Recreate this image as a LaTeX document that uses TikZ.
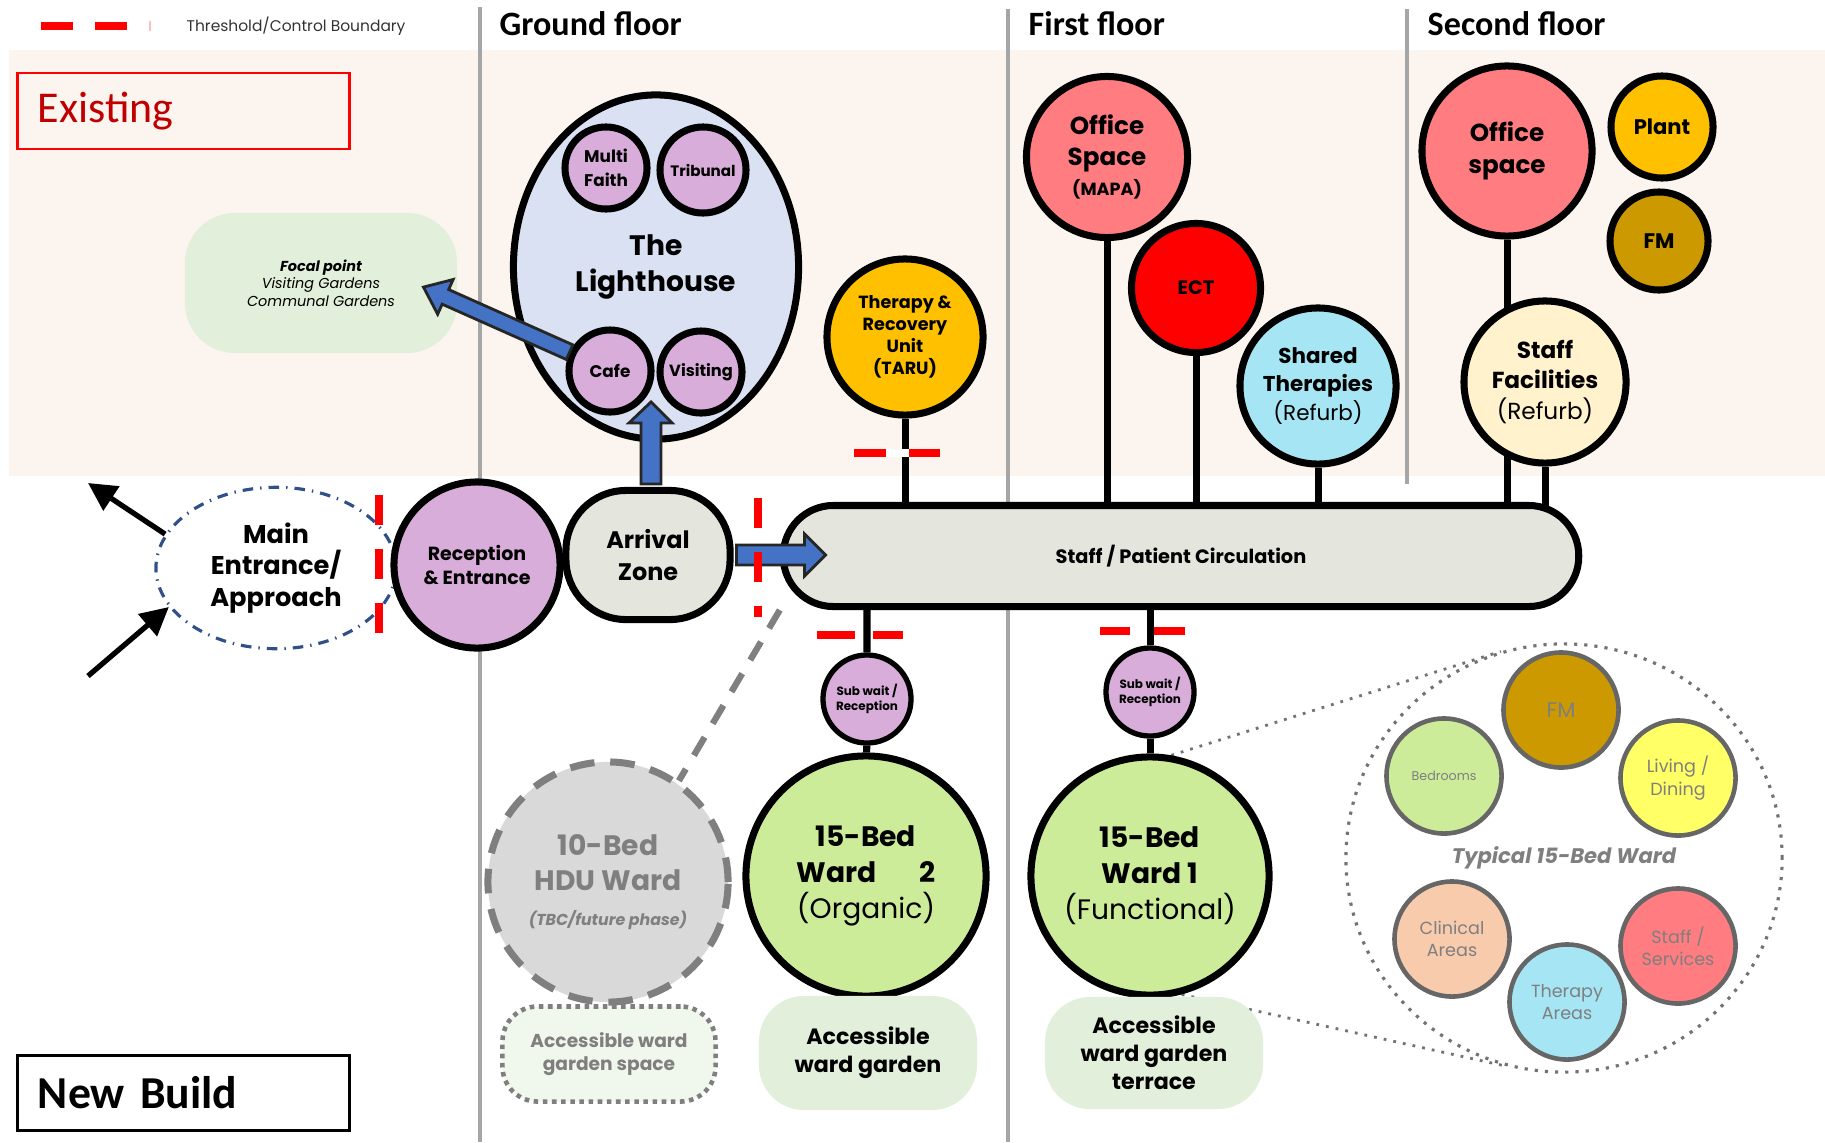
\documentclass[tikz,border=0pt]{standalone}
\usepackage{fontspec}
\setmainfont{Poppins}
\newfontfamily\headfont{Carlito}
\usepackage{xcolor}
\usetikzlibrary{shapes,arrows.meta,positioning,backgrounds,calc}
\pgfdeclarelayer{back}
\pgfsetlayers{back,background,main}
\newcommand\fsz[2]{\fontsize{#1}{#2}\selectfont}
\definecolor{peach}{RGB}{252,244,238}
\definecolor{lilac}{RGB}{217,173,218}
\definecolor{haze}{RGB}{218,225,243}
\definecolor{stone}{RGB}{228,229,220}
\definecolor{amber}{RGB}{255,192,0}
\definecolor{salmon}{RGB}{255,124,128}
\definecolor{aqua}{RGB}{166,230,244}
\definecolor{cream}{RGB}{255,242,204}
\definecolor{ochre}{RGB}{204,153,0}
\definecolor{lime}{RGB}{204,236,153}
\definecolor{sage}{RGB}{226,239,218}
\definecolor{peel}{RGB}{248,203,173}
\definecolor{lemon}{RGB}{255,255,102}
\definecolor{arrowblue}{RGB}{68,114,196}
\definecolor{darkred}{RGB}{192,0,0}
\definecolor{ink}{RGB}{127,127,127}

\begin{document}
\begin{tikzpicture}[x=0.01cm, y=-0.01cm,
    room/.style={circle, draw, line width=2pt, inner sep=0pt, align=center},
    part/.style={circle, draw=black!60, line width=1.3pt, inner sep=0pt, align=center, text=ink, minimum size=1.15cm, font=\fsz{5}{6.3}},
    stem/.style={line width=2pt},
    gate/.style={red, line width=2.3pt},
    floorline/.style={draw=black!35, line width=1.2pt},
    blockarrow/.style={fill=arrowblue, draw=black!85, line width=0.8pt, line join=miter},
    walk/.style={line width=1.5pt, -{Triangle[length=8pt,width=8pt]}},
    zoomline/.style={draw=black!55, dotted, line width=0.8pt}]
    \useasboundingbox (0,0) rectangle (1825,1142);
    \begin{pgfonlayer}{back}
    \fill[peach] (9,50) rectangle (1825,476);
    \end{pgfonlayer}

    \draw[gate] (41,26) -- (73,26) (95,26) -- (127,26);
    \draw[red!25, line width=0.6pt] (150,21) -- (150,31);
    \node[anchor=base west, inner sep=0pt, text=black!80, font=\fsz{4.4}{5}](legend) at (186,31) {Threshold/Control Boundary};
    \node[anchor=base west, inner sep=0pt, font=\headfont\bfseries\fsz{9.7}{11}](gfloor) at (499,35) {Ground floor};
    \node[anchor=base west, inner sep=0pt, font=\headfont\bfseries\fsz{9.7}{11}](ffloor) at (1028,35) {First floor};
    \node[anchor=base west, inner sep=0pt, font=\headfont\bfseries\fsz{9.7}{11}](sfloor) at (1427,35) {Second floor};

    \node[draw=red, line width=0.8pt, minimum height=0.76cm, text width=2.91cm, inner xsep=0.2cm, align=left, text=darkred, font=\headfont\fsz{12.5}{14}](existing) at (183.5,111) {Existing};
    \node[draw, line width=0.8pt, minimum height=0.75cm, text width=2.91cm, inner xsep=0.2cm, align=left, font=\headfont\bfseries\fsz{13}{15}](newbuild) at (183.5,1093) {New Build};

    \node[fill=sage, rounded corners=0.5cm, minimum width=2.72cm, minimum height=1.4cm, align=center, font=\itshape\fsz{4.1}{5}](focal) at (321,283) {{\bfseries Focal point}\\Visiting Gardens\\Communal Gardens};

    \node[ellipse, draw, line width=2pt, fill=haze, minimum width=2.85cm, minimum height=3.44cm, align=center, font=\bfseries\fsz{8}{10}](lighthouse) at (656,267) {The\\Lighthouse};
    \node[room, fill=lilac, minimum size=0.82cm, font=\bfseries\fsz{4.8}{6.8}](multi) at (606,168) {Multi\\Faith};
    \node[room, fill=lilac, minimum size=0.86cm, font=\bfseries\fsz{4.3}{5}](tribunal) at (703,170) {Tribunal};
    \node[room, fill=lilac, minimum size=0.82cm, font=\bfseries\fsz{4.8}{6}](cafe) at (610,371) {Cafe};
    \node[room, fill=lilac, minimum size=0.82cm, font=\bfseries\fsz{4.6}{6}](visiting) at (701,372) {Visiting};

    \node[room, fill=amber, minimum size=1.56cm, font=\bfseries\fsz{5}{6.2}](taru) at (905,337) {Therapy \&\\Recovery\\Unit\\(TARU)};
    \node[room, fill=salmon, minimum size=1.61cm, font=\bfseries\fsz{7}{8.8}](office) at (1107,157) {Office\\Space\\{\fsz{5}{8}(MAPA)}};
    \node[room, fill=red, minimum size=1.29cm, font=\bfseries\fsz{5.5}{7}](ect) at (1196,288) {ECT};
    \node[room, fill=aqua, minimum size=1.56cm, font=\fsz{6.1}{8}](shared) at (1318,386) {\textbf{Shared}\\\textbf{Therapies}\\(Refurb)};
    \node[room, fill=salmon, minimum size=1.7cm, font=\bfseries\fsz{7}{9}](officeb) at (1507,151) {Office\\space};
    \node[room, fill=amber, minimum size=1.02cm, font=\bfseries\fsz{6}{7}](plant) at (1662,127) {Plant};
    \node[room, fill=ochre, minimum size=0.98cm, font=\bfseries\fsz{6}{7}](fm) at (1659,241) {FM};
    \node[room, fill=cream, minimum size=1.62cm, font=\fsz{6.6}{8.8}](staff) at (1545,382) {\textbf{Staff}\\\textbf{Facilities}\\(Refurb)};

    \node[ellipse, draw=arrowblue!70!black, dash dot, line width=0.9pt, minimum width=2.4cm, minimum height=1.6cm, align=center, font=\bfseries\fsz{7.3}{9}](entry) at (276,568) {Main\\Entrance/\\Approach};
    \node[room, fill=lilac, minimum size=1.66cm, font=\bfseries\fsz{5.4}{6.8}](reception) at (477,565) {Reception\\\& Entrance};
    \node[draw, line width=2pt, fill=stone, rounded corners=0.6cm, minimum width=1.64cm, minimum height=1.29cm, align=center, font=\bfseries\fsz{6.8}{9}](arrival) at (648,555) {Arrival\\Zone};
    \node[draw, line width=2pt, fill=stone, rounded corners=0.5cm, minimum width=7.95cm, minimum height=1.01cm, font=\bfseries\fsz{5.5}{7}](circ) at (1181,556) {Staff / Patient Circulation};

    \node[room, fill=lilac, line width=1.5pt, minimum size=0.88cm, font=\bfseries\fsz{3.4}{4.3}](subwa) at (867,699) {Sub wait /\\Reception};
    \node[room, fill=lilac, line width=1.5pt, minimum size=0.88cm, font=\bfseries\fsz{3.4}{4.3}](subwb) at (1150,692) {Sub wait /\\Reception};
    \node[room, fill=lime, minimum size=2.4cm, font=\fsz{8}{10.2}](wardb) at (866,876) {\textbf{15-Bed}\\\textbf{Ward\hspace{1.5em}2}\\(Organic)};
    \node[room, fill=lime, minimum size=2.38cm, font=\fsz{8}{10.2}](warda) at (1150,876) {\textbf{15-Bed}\\\textbf{Ward 1}\\(Functional)};
    \node[circle, draw=ink, fill=black!15, line width=2pt, dash pattern=on 7pt off 4.5pt, minimum size=2.4cm, align=center, text=ink, font=\bfseries\fsz{8}{10}](hdu) at (608,882) {10-Bed\\HDU Ward\\{\itshape\fsz{4.5}{9}(TBC/future phase)}};

    \node[draw=ink, line width=1.3pt, dash pattern=on 1.3pt off 1.3pt, fill=sage!50, rounded corners=0.35cm, minimum width=2.13cm, minimum height=0.95cm, align=center, text=ink, font=\bfseries\fsz{5.3}{6.3}](gardenc) at (609,1054) {Accessible ward\\garden space};
    \node[fill=sage, rounded corners=0.45cm, minimum width=2.18cm, minimum height=1.14cm, align=center, font=\bfseries\fsz{6.3}{8}](gardenb) at (868,1053) {Accessible\\ward garden};
    \node[fill=sage, rounded corners=0.45cm, minimum width=2.18cm, minimum height=1.12cm, align=center, font=\bfseries\fsz{6.3}{8}](gardena) at (1154,1053) {Accessible\\ward garden\\terrace};

    \node[ellipse, draw=black!55, dotted, line width=0.9pt, minimum width=4.36cm, minimum height=4.28cm, text=ink, font=\bfseries\itshape\fsz{6}{7}](typical) at (1564,858) {Typical 15-Bed Ward};
    \node[part, fill=ochre, font=\fsz{6}{7}](pfm) at (1561,710) {FM};
    \node[part, fill=lime, font=\fsz{3.6}{4.5}](pbed) at (1444,776) {Bedrooms};
    \node[part, fill=lemon](pliving) at (1678,778) {Living /\\Dining};
    \node[part, fill=peel](pclinic) at (1452,939) {Clinical\\Areas};
    \node[part, fill=aqua](ptherapy) at (1567,1002) {Therapy\\Areas};
    \node[part, fill=salmon](pstaff) at (1678,946) {Staff /\\Services};

    \begin{scope}[on background layer]
    \draw[floorline] (480,7) -- (480,1142);
    \draw[floorline] (1008,9) -- (1008,1142);
    \draw[floorline] (1407,9) -- (1407,484);
    \draw[stem] (taru) -- (taru |- circ.center);
    \draw[stem] (office) -- (office |- circ.center);
    \draw[stem] (ect) -- (ect |- circ.center);
    \draw[stem] (shared) -- (shared |- circ.center);
    \draw[stem] (officeb) -- (officeb |- circ.center);
    \draw[stem] (staff) -- (staff |- circ.center);
    \draw[stem] (subwa |- circ.center) -- (subwa) -- (wardb);
    \draw[stem] (subwb |- circ.center) -- (subwb) -- (warda);
    \draw[draw=black!50, line width=1.8pt, dash pattern=on 6pt off 4.5pt] (circ.south west) -- (hdu.55);
    \draw[zoomline] (warda.80) -- (typical.107) (warda.285) -- (typical.255);
    \end{scope}

    \coordinate (exitpt) at (88,483);
    \coordinate (entrypt) at (88,676);
    \draw[walk] (entry.163) -- (exitpt);
    \draw[walk] (entrypt) -- (entry.200);

    \draw[blockarrow] ($(arrival.north)+(-7,-3)$) -- ++(0,-61) -- ++(-12,0) -- ++(22,-21) -- ++(21,21) -- ++(-11,0) -- ++(0,61) -- cycle;
    \draw[blockarrow] ($(arrival.east)+(3,-10)$) -- ++(68,0) -- ++(0,-11) -- ++(21,21) -- ++(-21,21) -- ++(0,-11) -- ++(-68,0) -- cycle;
    \begin{scope}[shift={(cafe.155)}, rotate=156]
    \draw[blockarrow] (0,-8) -- (136,-8) -- (136,-19) -- (160,0) -- (136,19) -- (136,8) -- (0,8) -- cycle;
    \end{scope}

    \draw[gate, dash pattern=on 8.5pt off 6.8pt] (379,495) -- (379,634);
    \draw[gate, dash pattern=on 8.5pt off 6.8pt] (758,498) -- (758,617);
    \draw[gate] (854,453) -- (886,453) (909,453) -- (940,453);
    \draw[white, line width=2.3pt] (886,453) -- (909,453);
    \draw[gate] (817,635) -- (855,635) (873,635) -- (903,635);
    \draw[gate] (1100,631) -- (1130,631) (1154,631) -- (1185,631);
\end{tikzpicture}
\end{document}
